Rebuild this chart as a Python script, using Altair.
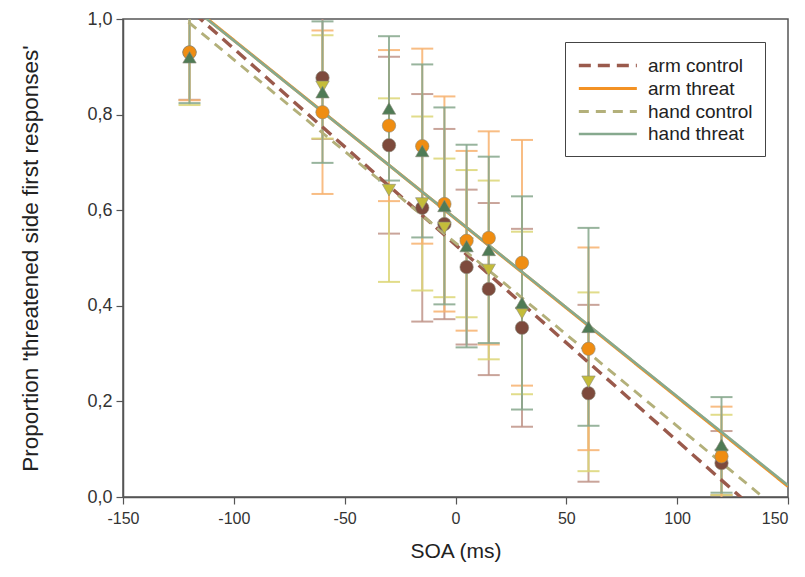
import altair as alt
import pandas as pd

soa = [-120, -60, -30, -15, -5, 5, 15, 30, 60, 120]
series_names = ["arm control", "arm threat", "hand control", "hand threat"]

arm_control = [0.93, 0.877, 0.736, 0.605, 0.571, 0.481, 0.435, 0.354, 0.217, 0.071]
arm_control_err = [0.099, 0.128, 0.185, 0.238, 0.199, 0.162, 0.180, 0.207, 0.185, 0.067]
arm_threat = [0.93, 0.805, 0.777, 0.734, 0.613, 0.536, 0.542, 0.49, 0.31, 0.085]
arm_threat_err = [0.10, 0.171, 0.158, 0.204, 0.225, 0.188, 0.223, 0.257, 0.212, 0.104]
hand_control = [0.92, 0.858, 0.642, 0.614, 0.563, 0.53, 0.475, 0.385, 0.241, 0.088]
hand_control_err = [0.10, 0.108, 0.192, 0.182, 0.145, 0.154, 0.187, 0.170, 0.187, 0.084]
hand_threat = [0.92, 0.847, 0.813, 0.724, 0.609, 0.525, 0.517, 0.406, 0.356, 0.109]
hand_threat_err = [0.096, 0.148, 0.151, 0.181, 0.206, 0.212, 0.195, 0.223, 0.207, 0.10]

x_ticks = [-150, -100, -50, 0, 50, 100, 150]
y_ticks = [0.0, 0.2, 0.4, 0.6, 0.8, 1.0]

line_colors = ["#9a5a4c", "#f39224", "#b3b07a", "#86a98e"]
marker_colors = ["#7d4a3c", "#ef8d12", "#c4bc3a", "#4f7b55"]
err_colors = ["#bf9488", "#f7b16e", "#dcd676", "#86a78c"]
shapes = ["circle", "circle", "triangle-down", "triangle-up"]

rows = []
for name, vals, errs in [
    ("arm control", arm_control, arm_control_err),
    ("arm threat", arm_threat, arm_threat_err),
    ("hand control", hand_control, hand_control_err),
    ("hand threat", hand_threat, hand_threat_err),
]:
    for s, v, e in zip(soa, vals, errs):
        rows.append({"soa": s, "series": name, "value": v,
                     "lower": v - e, "upper": v + e})
df = pd.DataFrame(rows)

xscale = alt.Scale(domain=[-150, 150], nice=False, zero=False)
yscale = alt.Scale(domain=[0, 1], nice=False, zero=False)

xaxis = alt.Axis(values=x_ticks, title="SOA (ms)", labelExpr="'' + datum.value",
                 labelFlush=False,
                 labelAlign={"condition": {"test": "datum.value >= 150", "value": "right"},
                             "value": "center"})
yaxis = alt.Axis(values=y_ticks, title="Proportion 'threatened side first responses'",
                 labelExpr="replace(format(datum.value, '.1f'), '.', ',')")

layers = []
draw_order = [0, 2, 1, 3]
for i in draw_order:
    name = series_names[i]
    base = alt.Chart(df).transform_filter(alt.datum.series == name)
    layers.append(base.mark_rule(color=err_colors[i], strokeWidth=2, opacity=0.85, clip=True).encode(
        x=alt.X("soa:Q", scale=xscale, axis=xaxis),
        y=alt.Y("lower:Q", scale=yscale, axis=yaxis),
        y2="upper:Q"))
    for fld in ["lower", "upper"]:
        layers.append(base.mark_rule(color=err_colors[i], strokeWidth=2, opacity=0.85,
                                     xOffset=-11, x2Offset=11, clip=True).encode(
            x="soa:Q", x2="soa:Q", y=f"{fld}:Q"))

leg = alt.Legend(title=None)
lines = alt.Chart(df).transform_regression(
    "soa", "value", groupby=["series"], extent=[-150, 150]
).mark_line(clip=True).encode(
    x="soa:Q",
    y="value:Q",
    color=alt.Color("series:N", scale=alt.Scale(domain=series_names, range=line_colors), legend=leg),
    strokeDash=alt.StrokeDash("series:N", scale=alt.Scale(domain=series_names,
                              range=[[12, 7], [1, 0], [10, 7], [1, 0]]), legend=leg),
    strokeWidth=alt.StrokeWidth("series:N", scale=alt.Scale(domain=series_names,
                                range=[3.4, 2.6, 2.2, 1.3]), legend=leg),
)
layers.append(lines)

for i in draw_order:
    name = series_names[i]
    layers.append(alt.Chart(df).transform_filter(alt.datum.series == name).mark_point(
        shape=shapes[i], filled=True, size=180, color=marker_colors[i],
        stroke="#8a8a7a", strokeWidth=0.6, opacity=1, clip=True).encode(
        x="soa:Q", y="value:Q"))

chart = alt.layer(*layers).properties(
    width=665, height=478,
    autosize=alt.AutoSizeParams(type="none"),
    padding={"left": 115, "top": 11, "right": 9, "bottom": 72},
).configure_view(
    stroke="#555555", strokeWidth=1.5
).configure_axis(
    grid=False, domainColor="#555555", tickColor="#555555", tickSize=7,
    domainWidth=1.5, tickWidth=1.2,
    labelFont="Liberation Sans", labelColor="#333333",
    titleFont="Liberation Sans", titleFontWeight="normal", titleColor="#222222",
    labelPadding=4,
).configure_axisX(
    titlePadding=14, titleFontSize=21, labelPadding=6, labelFontSize=16
).configure_axisY(
    titlePadding=44, titleFontSize=22.5, labelFontSize=18
).configure_legend(
    orient="none", legendX=442, legendY=23,
    strokeColor="#444444", fillColor="white", padding=12,
    symbolType="M-1,0H5", symbolSize=374, labelFont="Liberation Sans",
    labelFontSize=19, labelColor="#222222", labelOffset=48, rowPadding=1,
)

chart.save("out.html", embed_options={"renderer": "svg", "actions": False})
